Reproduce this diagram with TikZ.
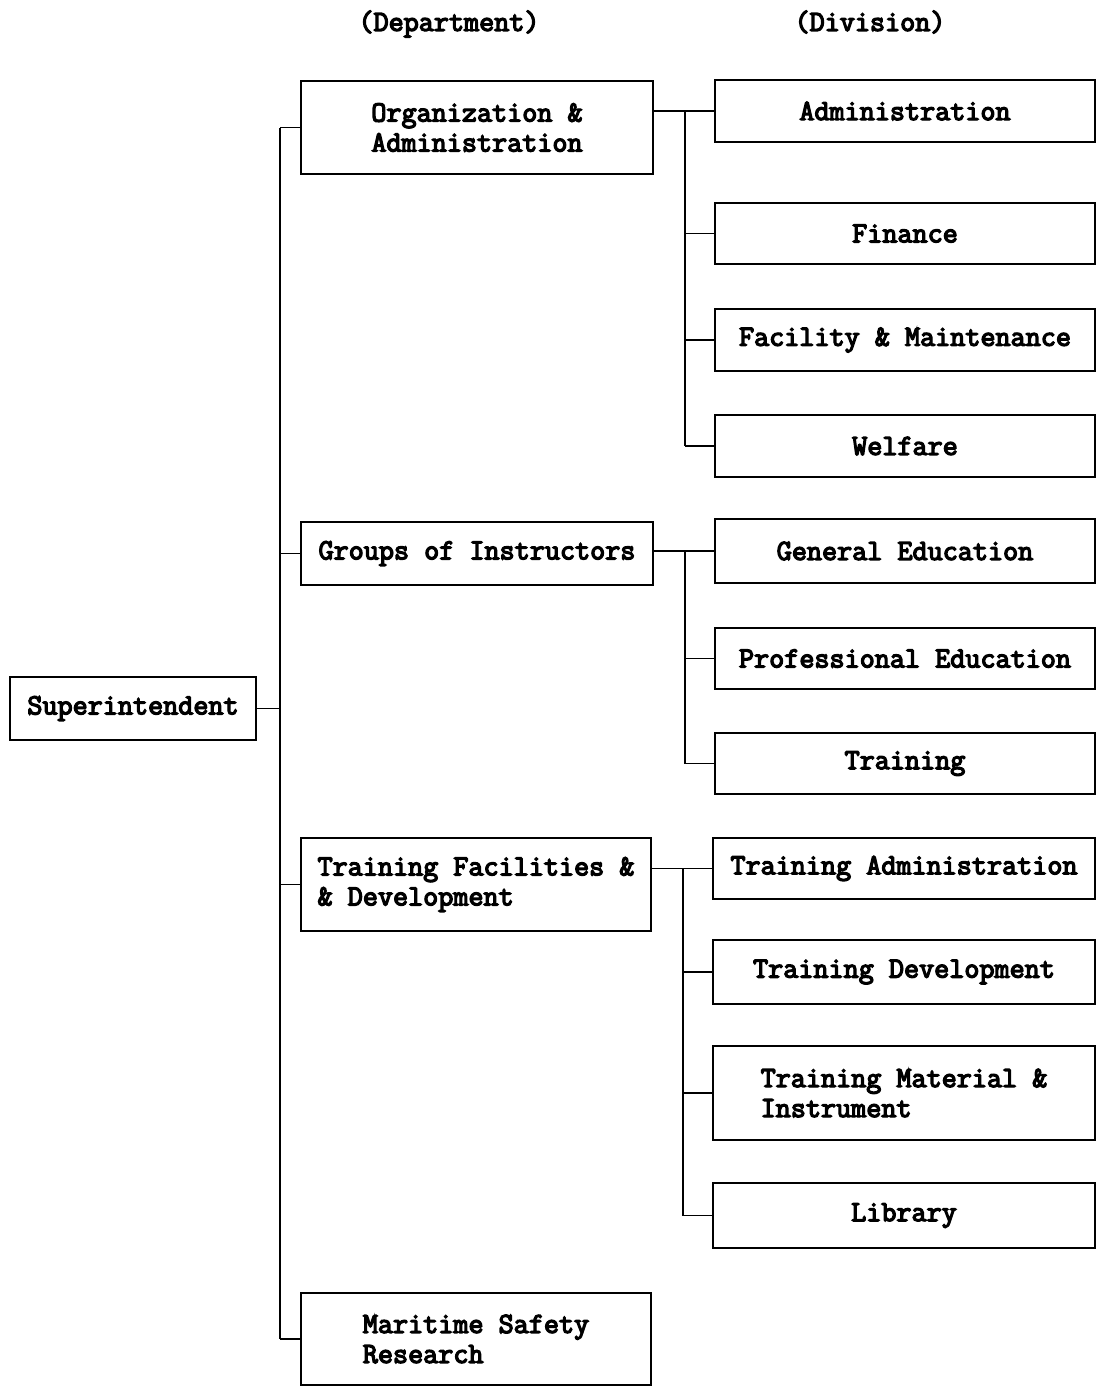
\documentclass[tikz,border=0pt]{standalone}
\usepackage{fontspec}
\newfontfamily\typewriter{Latin Modern Mono}[FakeBold=4.5]
\begin{document}
\begin{tikzpicture}[x=1pt,y=-1pt,
  every node/.style={font=\fontsize{29.3}{30}\selectfont\typewriter},
  box/.style={draw, line width=1.6pt, inner sep=0pt, align=left},
  dept/.style={box, minimum width=352, minimum height=93},
  divbox/.style={box, minimum width=380, minimum height=62},
  link/.style={line width=1.6pt}]
\useasboundingbox (0,0) rectangle (1097,1387);

% column headings
\node (hdep) at (449,24) {(Department)};
\node (hdiv) at (870,22) {(Division)};

% head of the organisation
\node[box, minimum width=246, minimum height=63] (sup) at (133,708.5) {Superintendent};

% departments
\node[dept] (org) at (477,127.5) {Organization \&\\Administration};
\node[dept, minimum height=63] (grp) at (477,553.5) {Groups of Instructors};
\node[dept, minimum width=350] (tfd) at (476,884.5) {Training Facilities \&\\\& Development};
\node[dept, minimum width=350, minimum height=92] (msr) at (476,1339) {Maritime Safety\\Research};

% divisions
\node[divbox] (adm) at (905,111) {Administration};
\node[divbox, minimum height=61] (fin) at (905,233.5) {Finance};
\node[divbox] (fac) at (905,340) {Facility \& Maintenance};
\node[divbox] (wel) at (905,446) {Welfare};

\node[divbox, minimum height=64] (gen) at (905,551) {General Education};
\node[divbox, minimum height=61] (pro) at (905,658.5) {Professional Education};
\node[divbox, minimum height=61] (trn) at (905,763.5) {Training};

\node[divbox, minimum width=382, minimum height=61] (tad) at (904,868.5) {Training Administration};
\node[divbox, minimum width=382, minimum height=64] (tdv) at (904,972) {Training Development};
\node[divbox, minimum width=382, minimum height=94] (tmi) at (904,1093) {Training Material \&\\Instrument};
\node[divbox, minimum width=382, minimum height=65] (lib) at (904,1215.5) {Library};

% trunk lines
\coordinate (t0) at (280,0);
\coordinate (t1) at (685,0);
\coordinate (t2) at (685,0);
\coordinate (t3) at (683,0);

% superintendent to departments
\draw[link] (sup.east) -- (sup.east -| t0);
\draw[link] (t0 |- org.west) -- (t0 |- msr.west);
\foreach \d in {org,grp,tfd,msr}
  \draw[link] (t0 |- \d.west) -- (\d.west);

% departments to their divisions
\draw[link] (adm.west -| org.east) -- (adm.west);
\draw[link] (t1 |- adm.west) -- (t1 |- wel.west);
\foreach \d in {fin,fac,wel}
  \draw[link] (t1 |- \d.west) -- (\d.west);

\draw[link] (gen.west -| grp.east) -- (gen.west);
\draw[link] (t2 |- gen.west) -- (t2 |- trn.west);
\foreach \d in {pro,trn}
  \draw[link] (t2 |- \d.west) -- (\d.west);

\draw[link] (tad.west -| tfd.east) -- (tad.west);
\draw[link] (t3 |- tad.west) -- (t3 |- lib.west);
\foreach \d in {tdv,tmi,lib}
  \draw[link] (t3 |- \d.west) -- (\d.west);
\end{tikzpicture}
\end{document}
